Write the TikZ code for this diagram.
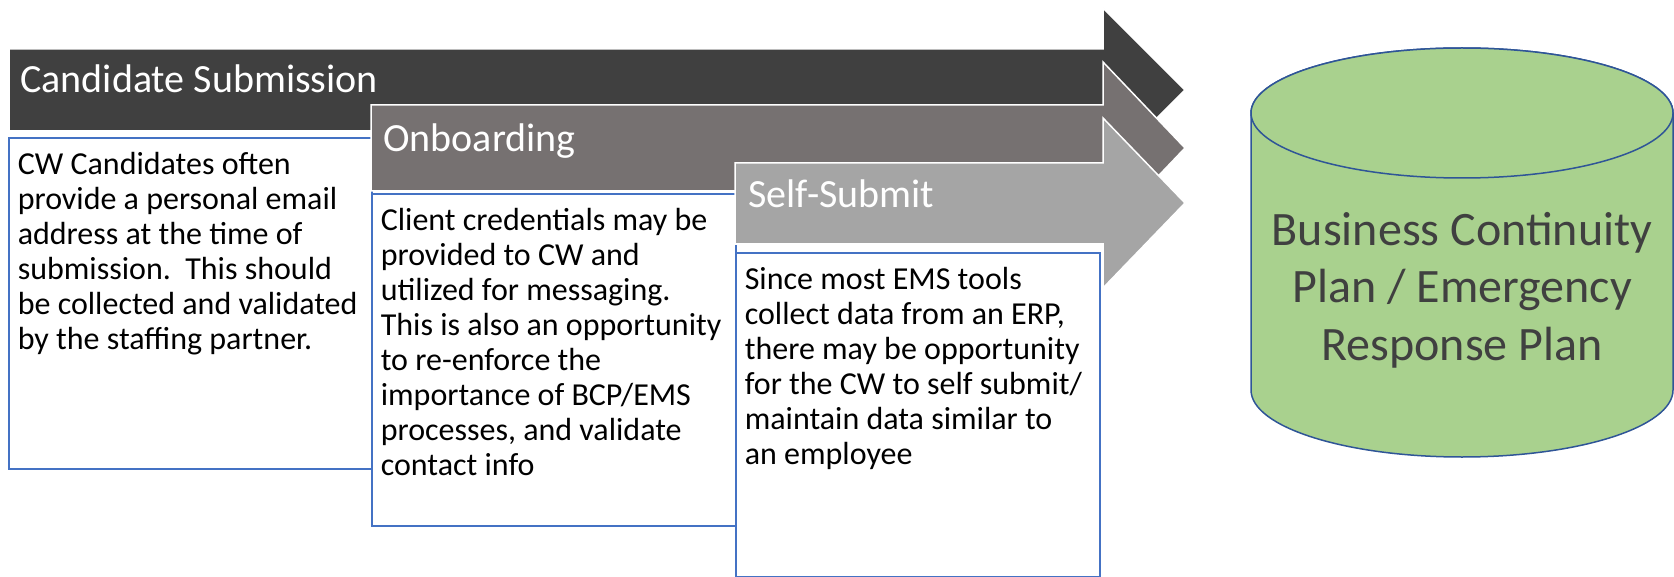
\documentclass[tikz,border=0pt]{standalone}
\usepackage{fontspec}
\setmainfont{Carlito}
\usetikzlibrary{positioning}
\definecolor{xdark}{HTML}{404040}
\definecolor{xmid}{HTML}{767171}
\definecolor{xlight}{HTML}{A5A5A5}
\definecolor{xblue}{HTML}{4472C4}
\definecolor{xgreen}{HTML}{A9D18E}
\definecolor{xnavy}{HTML}{2F5597}
\tikzset{
	phase/.style={draw=white, line width=0.75pt},
	phaselabel/.style={anchor=base west, inner sep=0pt, text=white, font=\fontsize{20}{24}\selectfont},
	notebox/.style={draw=xblue, line width=1pt, fill=white, anchor=north west, inner sep=0pt},
	notetext/.style={anchor=north west, inner sep=0pt, align=left, font=\fontsize{16}{17.5}\selectfont},
	bcp/.style={draw=xnavy, line width=0.75pt, fill=xgreen},
}
\begin{document}
\begin{tikzpicture}[x=0.5pt, y=-0.5pt]
	\useasboundingbox (0,0) rectangle (1674,577);

	% phase arrows and their notes
	\filldraw[phase, fill=xdark] (9,49) -- (1103,49) -- (1103,8) -- (1185,90) -- (1103,172) -- (1103,131) -- (9,131) -- cycle;
	\node[phaselabel] (candlbl) at (20,93) {Candidate Submission};
	\node[notebox, minimum width=181.5pt, minimum height=165.5pt] (candbox) at (8,137) {};
	\node[notetext, below right=7.3pt and 4.7pt of candbox.north west] (candtxt) {CW Candidates often\\provide a personal email\\address at the time of\\submission.\ \ This should\\be collected and validated\\by the staffing partner.};

	\filldraw[phase, fill=xmid] (371,105) -- (1103,105) -- (1103,62) -- (1185,148) -- (1103,234) -- (1103,191) -- (371,191) -- cycle;
	\node[phaselabel] (onblbl) at (383,152) {Onboarding};
	\node[notebox, minimum width=182pt, minimum height=166pt] (onbbox) at (371,193) {};
	\node[notetext, below right=7.3pt and 4.7pt of onbbox.north west] (onbtxt) {Client credentials may be\\provided to CW and\\utilized for messaging.\\This is also an opportunity\\to re-enforce the\\importance of BCP/EMS\\processes, and validate\\contact info};

	\filldraw[phase, fill=xlight] (735,163) -- (1103,163) -- (1103,118) -- (1185,203) -- (1103,288) -- (1103,244) -- (735,244) -- cycle;
	\node[phaselabel] (selflbl) at (748,208) {Self-Submit};
	\node[notebox, minimum width=182pt, minimum height=162pt] (selfbox) at (735,252) {};
	\node[notetext, below right=7.3pt and 4.7pt of selfbox.north west] (selftxt) {Since most EMS tools\\collect data from an ERP,\\there may be opportunity\\for the CW to self submit/\\maintain data similar to\\an employee};

	% plan store
	\filldraw[bcp] (1251,113) -- (1251,390) arc (180:360:105.5pt and 33.5pt) -- (1673,113) arc (0:180:105.5pt and 32.5pt) -- cycle;
	\draw[bcp] (1462,113) ellipse (105.5pt and 32.5pt);
	\node[align=center, text=xdark, font=\fontsize{24}{28.7}\selectfont] (bcptxt) at (1462,290) {Business Continuity\\Plan / Emergency\\Response Plan};
\end{tikzpicture}
\end{document}
